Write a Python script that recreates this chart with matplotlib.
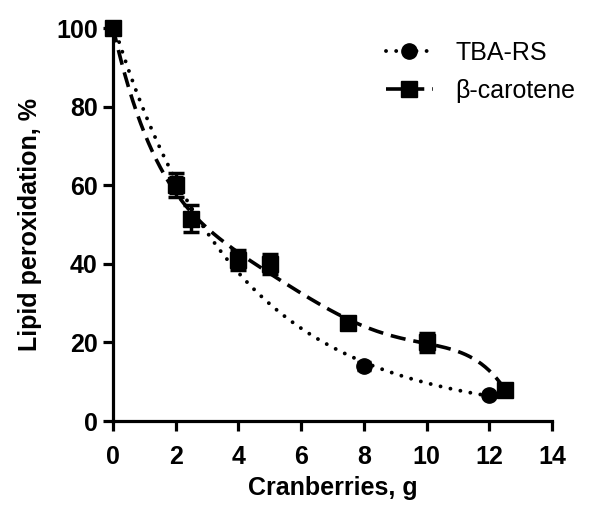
import numpy as np
import matplotlib
matplotlib.use("Agg")
import matplotlib.pyplot as plt
from matplotlib.lines import Line2D

plt.rcParams['font.family'] = ['Liberation Sans', 'DejaVu Sans']

# data
tba_x = [0, 2, 4, 8, 12]
tba_y = [100, 60, 41, 14, 6.5]
tba_err = [0, 2.0, 2.0, 1.0, 0.5]

beta_x = [0, 2, 2.5, 4, 5, 7.5, 10, 12.5]
beta_y = [100, 60, 51.5, 41, 40, 25, 20, 8]
beta_err = [0, 3.0, 3.5, 2.5, 2.5, 1.0, 2.5, 1.0]

fig = plt.figure(figsize=(5.9, 5.05), dpi=100)
ax = fig.add_axes([0.1915, 0.1663, 0.744, 0.778])

# smooth fitted curves through the points
c1 = np.polyfit(tba_x, np.log(tba_y), 2)
xs1 = np.linspace(0, 12, 200)
ax.plot(xs1, np.exp(np.polyval(c1, xs1)), color='black', lw=2.8,
        linestyle=(0, (0.01, 2.6)), dash_capstyle='round', zorder=2)

c2 = np.polyfit(beta_x, beta_y, 5)
xs2 = np.linspace(0, 12.5, 200)
ax.plot(xs2, np.polyval(c2, xs2), color='black', lw=2.6,
        linestyle=(0, (4.2, 2.2)), zorder=2)

ax.errorbar(beta_x, beta_y, yerr=beta_err, fmt='s', color='black', ms=11,
            capsize=5.5, capthick=2.5, elinewidth=2.5, clip_on=False, zorder=3)
ax.errorbar(tba_x, tba_y, yerr=tba_err, fmt='o', color='black', ms=11,
            capsize=5, capthick=2.5, elinewidth=2.5, clip_on=False, zorder=4)

ax.set_xlim(0, 14)
ax.set_ylim(0, 100)
ax.set_xticks(range(0, 15, 2))
ax.set_yticks(range(0, 101, 20))
for s in ['top', 'right']:
    ax.spines[s].set_visible(False)
for s in ['left', 'bottom']:
    ax.spines[s].set_linewidth(2.3)
ax.tick_params(width=2.3, length=7, labelsize=18)
ax.tick_params(axis='x', pad=10)
ax.tick_params(axis='y', pad=4)
for lab in ax.get_xticklabels() + ax.get_yticklabels():
    lab.set_fontweight('bold')

ax.set_xlabel('Cranberries, g', fontsize=18, fontweight='bold', labelpad=5)
ax.set_ylabel('Lipid peroxidation, %', fontsize=18, fontweight='bold', labelpad=10)

handles = [
    Line2D([], [], color='black', marker='o', ms=11, lw=2.8,
           linestyle=(0, (0.01, 2.6)), dash_capstyle='round'),
    Line2D([], [], color='black', marker='s', ms=11, lw=2.6,
           linestyle=(0, (4.2, 2.2))),
]
ax.legend(handles, ['TBA-RS', 'β-carotene'], loc='upper right',
          bbox_to_anchor=(1.105, 1.025), frameon=False, fontsize=18,
          handlelength=1.9, handletextpad=0.9, labelspacing=0.55)

fig.savefig('out.png', dpi=100)
